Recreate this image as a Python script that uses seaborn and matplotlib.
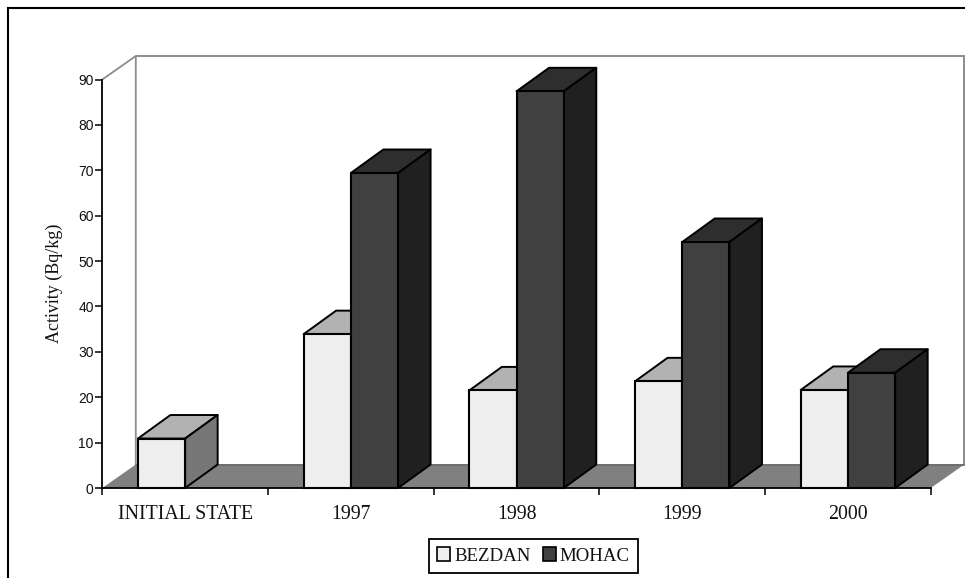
import numpy as np
import pandas as pd
import matplotlib
matplotlib.use("Agg")
import matplotlib.pyplot as plt
from matplotlib.lines import Line2D
from matplotlib.patches import Patch
import seaborn as sns

categories = ["INITIAL STATE", "1997", "1998", "1999", "2000"]
bezdan = [10.9, 33.9, 21.5, 23.5, 21.6]
mohac = [np.nan, 69.4, 87.4, 54.2, 25.4]
y_ticks = [0, 10, 20, 30, 40, 50, 60, 70, 80, 90]

series_names = ["BEZDAN", "MOHAC"]
front_colors = {"BEZDAN": "#eeeeee", "MOHAC": "#404040"}
top_colors = {"BEZDAN": "#b2b2b2", "MOHAC": "#2e2e2e"}
side_colors = {"BEZDAN": "#777777", "MOHAC": "#202020"}

W, H = 965, 578
AX_L, AX_R, AX_T, AX_B = 102.3, 930.8, 79.5, 488.0
SERIF = "Liberation Serif"
SANS = "Liberation Sans"

sns.set_theme(style="white")
plt.rcParams["font.family"] = [SERIF, "DejaVu Sans"]

fig = plt.figure(figsize=(W / 100, H / 100), dpi=100, facecolor="white")
ax = fig.add_axes([AX_L / W, 1 - AX_B / H, (AX_R - AX_L) / W, (AX_B - AX_T) / H])
ax.patch.set_alpha(0)

df = pd.DataFrame({
    "category": categories * 2,
    "series": [series_names[0]] * len(bezdan) + [series_names[1]] * len(mohac),
    "value": bezdan + mohac,
}).dropna()

sns.barplot(
    data=df, x="category", y="value", hue="series",
    order=categories, hue_order=series_names, palette=front_colors,
    width=0.57, dodge=True, saturation=1, errorbar=None,
    edgecolor="black", linewidth=1.5, legend=False, ax=ax, zorder=5,
)

ax.set_xlim(-0.5, len(categories) - 0.5)
ax.set_ylim(0, y_ticks[-1])

px_x = (AX_R - AX_L) / len(categories)
px_y = (AX_B - AX_T) / y_ticks[-1]
WALL_DX, WALL_DY = 33.5 / px_x, 23.5 / px_y
BAR_DX, BAR_DY = 32.5 / px_x, 23.5 / px_y

x0, x1 = ax.get_xlim()
y0, y1 = ax.get_ylim()

# floor and walls
ax.fill([x0, x1, x1 + WALL_DX, x0 + WALL_DX], [y0, y0, y0 + WALL_DY, y0 + WALL_DY],
        facecolor="#808080", edgecolor="none", zorder=1, clip_on=False)
grey = "#8c8c8c"
ax.plot([x0, x0 + WALL_DX, x0 + WALL_DX], [y1, y1 + WALL_DY, y0 + WALL_DY],
        color=grey, lw=1.3, zorder=1.5, clip_on=False, solid_joinstyle="miter")
ax.plot([x0 + WALL_DX, x1 + WALL_DX, x1 + WALL_DX], [y1 + WALL_DY, y1 + WALL_DY, y0 + WALL_DY],
        color=grey, lw=1.4, zorder=1.5, clip_on=False, solid_joinstyle="miter")
ax.plot([x0 + WALL_DX, x1 + WALL_DX], [y0 + WALL_DY, y0 + WALL_DY],
        color="#6e6e6e", lw=1.4, zorder=1.5, clip_on=False)

# 3-D faces derived from each drawn bar
for idx, (name, container) in enumerate(zip(series_names, ax.containers)):
    z = 2 + idx * 2
    for bar in container:
        h = bar.get_height()
        if not np.isfinite(h):
            continue
        l, r = bar.get_x(), bar.get_x() + bar.get_width()
        bar.set_zorder(z + 0.5)
        ax.fill([l, r, r + BAR_DX, l + BAR_DX], [h, h, h + BAR_DY, h + BAR_DY],
                facecolor=top_colors[name], edgecolor="black", lw=1.4,
                zorder=z, clip_on=False, joinstyle="round")
        ax.fill([r, r + BAR_DX, r + BAR_DX, r], [0, BAR_DY, h + BAR_DY, h],
                facecolor=side_colors[name], edgecolor="black", lw=1.4,
                zorder=z, clip_on=False, joinstyle="round")
    for bar in container:
        bar.set_clip_on(False)

# axes styling
sns.despine(ax=ax, top=True, right=True)
for s in ("left", "bottom"):
    ax.spines[s].set_color("black")
    ax.spines[s].set_linewidth(1.3)
    ax.spines[s].set_zorder(10)

ax.set_yticks(y_ticks)
ax.set_yticklabels([str(v) for v in y_ticks], fontfamily=SANS, fontsize=10, color="#111111")
ax.tick_params(axis="y", which="major", left=True, length=4.7, width=1.1, color="black", pad=1.5)

ax.set_xticks(range(len(categories)))
ax.set_xticklabels(categories, fontsize=14.3, color="#111111")
ax.set_xticks(np.arange(x0, x1 + 0.01, 1), minor=True)
ax.tick_params(axis="x", which="major", bottom=False, length=0, pad=12)
ax.tick_params(axis="x", which="minor", bottom=True, length=5, width=1.1, color="black")

ax.set_xlabel("")
ax.set_ylabel("Activity (Bq/kg)", fontsize=13, color="#111111")
ax.yaxis.set_label_coords((63 - AX_L) / (AX_R - AX_L), (AX_B - 283) / (AX_B - AX_T))

# legend
handles = [Patch(facecolor=front_colors[n], edgecolor="black", linewidth=1.2, label=n)
           for n in series_names]
leg = fig.legend(
    handles=handles, loc="center", bbox_to_anchor=(533.5 / W, 1 - 556 / H), ncol=2,
    fontsize=13.6, frameon=True, fancybox=False, edgecolor="black", facecolor="white",
    handlelength=0.7, handleheight=0.7, handletextpad=0.21, columnspacing=0.64,
    borderpad=0.45, borderaxespad=0,
)
leg.get_frame().set_linewidth(1.3)
leg.get_frame().set_alpha(1)
for t in leg.get_texts():
    t.set_color("#111111")

# outer frame (open on the right and bottom, as cropped in the source)
fig.add_artist(Line2D([7.5 / W, 7.5 / W, 1], [0, 1 - 7.5 / H, 1 - 7.5 / H],
                      color="black", lw=1.5, solid_joinstyle="miter"))

fig.savefig("out.png", dpi=100, facecolor="white")
